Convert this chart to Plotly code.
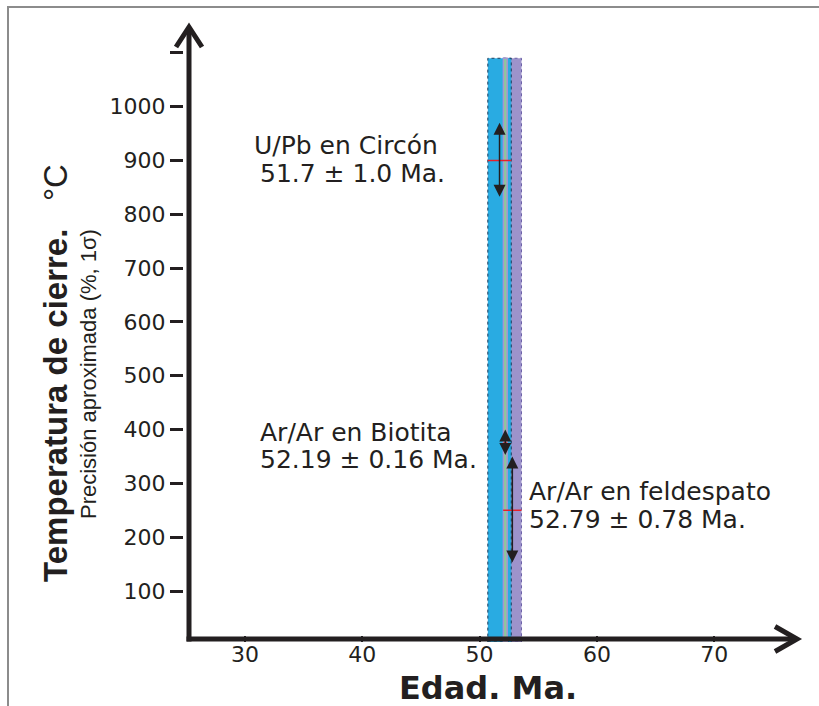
import plotly.graph_objects as go

# Closure ages (Ma) with 1-sigma errors
systems = ["U/Pb en Circón", "Ar/Ar en Biotita", "Ar/Ar en feldespato"]
ages = [51.7, 52.19, 52.79]
age_err = [1.0, 0.16, 0.78]
age_labels = ["51.7 ± 1.0 Ma.", "52.19 ± 0.16 Ma.", "52.79 ± 0.78 Ma."]

# Closure temperatures (°C) and approximate precision
temps = [900, 375, 250]
temp_err = [70, 25, 100]

band_colors = ["#29abe2", "#8dc99a", "#9d93cb"]
band_top = 1090

x_ticks = [30, 40, 50, 60, 70]
y_ticks = [100, 200, 300, 400, 500, 600, 700, 800, 900, 1000, 1100]
y_tick_text = ["100", "200", "300", "400", "500", "600", "700", "800", "900", "1000", ""]

INK = "#231f20"
WIDE = "DejaVu Sans, Verdana, sans-serif"
NARROW = "Liberation Sans, Arial, sans-serif"

# figure geometry (pixels) and axis ranges
W, H = 819, 706
L, R, T, B = 184, 14, 20, 64
x_range = [24.80, 77.74]
y_range = [5.22, 1161.1]


def px_x(px):
    return (px - L) / (W - L - R)


def px_y(py):
    return (H - B - py) / (H - T - B)


def dx(px):
    return x_range[0] + (px - L) * (x_range[1] - x_range[0]) / (W - L - R)


def dy(py):
    return y_range[0] + (H - B - py) * (y_range[1] - y_range[0]) / (H - T - B)


shapes = []

# age bands: feldspar (back), zircon, biotite (front)
band_order = [2, 0, 1]
band_lines = {
    0: dict(color="#1d3d5c", width=1, dash="dot"),
    1: dict(color="#a796d2", width=1.5),
    2: dict(color="#6a5fa6", width=1, dash="dot"),
}
for i in band_order:
    shapes.append(dict(
        type="rect", xref="x", yref="y",
        x0=ages[i] - age_err[i], x1=ages[i] + age_err[i],
        y0=y_range[0], y1=band_top,
        fillcolor=band_colors[i], line=band_lines[i], layer="above",
    ))

# closure temperature markers
for i in range(3):
    shapes.append(dict(
        type="line", xref="x", yref="y",
        x0=ages[i] - age_err[i], x1=ages[i] + age_err[i],
        y0=temps[i], y1=temps[i],
        line=dict(color="#e8202a", width=1.5), layer="above",
    ))

# axes drawn as heavy arrows (paper coordinates)
ax_line = dict(color=INK, width=5)
ox, oy = 189, 639          # origin corner
xt, yt = 797, 27           # arrow tips
shapes.append(dict(type="line", xref="paper", yref="paper",
                   x0=px_x(ox - 2.5), x1=px_x(xt), y0=px_y(oy), y1=px_y(oy), line=ax_line))
shapes.append(dict(type="line", xref="paper", yref="paper",
                   x0=px_x(ox), x1=px_x(ox), y0=px_y(oy + 2.5), y1=px_y(yt), line=ax_line))
shapes.append(dict(type="path", xref="paper", yref="paper",
                   path=f"M{px_x(xt - 22)},{px_y(oy - 12.5)} L{px_x(xt)},{px_y(oy)} L{px_x(xt - 22)},{px_y(oy + 12.5)}",
                   line=ax_line))
shapes.append(dict(type="path", xref="paper", yref="paper",
                   path=f"M{px_x(ox - 13)},{px_y(yt + 20)} L{px_x(ox)},{px_y(yt)} L{px_x(ox + 13)},{px_y(yt + 20)}",
                   line=ax_line))

# frame
shapes.append(dict(type="rect", xref="paper", yref="paper",
                   x0=px_x(8), x1=2, y0=-2, y1=px_y(7),
                   line=dict(color="#8c8c8c", width=2)))

annotations = []
# precision arrows
for i in range(3):
    annotations.append(dict(
        x=ages[i], y=temps[i] + temp_err[i], ax=ages[i], ay=temps[i] - temp_err[i],
        xref="x", yref="y", axref="x", ayref="y", text="",
        showarrow=True, arrowhead=2, startarrowhead=2, arrowside="end+start",
        arrowsize=1.6, startarrowsize=1.6, arrowwidth=1.5, arrowcolor=INK,
        standoff=0, startstandoff=0,
    ))

# two-line labels (name, age)
label_px = [((252, 145), (258, 173)), ((258, 432), (258, 459)), ((527, 491), (527, 519))]
for i in range(3):
    (x1, y1), (x2, y2) = label_px[i]
    for (lx, ly), txt in (((x1, y1), systems[i]), ((x2, y2), age_labels[i])):
        annotations.append(dict(
            x=dx(lx), y=dy(ly), xref="x", yref="y", text=txt, showarrow=False,
            xanchor="left", yanchor="middle", align="left",
            font=dict(family=WIDE, size=25, color=INK),
        ))

# axis titles
annotations.append(dict(
    x=px_x(55), y=px_y(373), xref="paper", yref="paper",
    text="<b>Temperatura de cierre.</b>\u00a0\u00a0\u00a0°C", textangle=-90,
    showarrow=False, xanchor="center", yanchor="middle",
    font=dict(family=NARROW, size=33, color=INK),
))
annotations.append(dict(
    x=px_x(88), y=px_y(374), xref="paper", yref="paper",
    text="Precisión aproximada (%, 1σ)", textangle=-90,
    showarrow=False, xanchor="center", yanchor="middle",
    font=dict(family=NARROW, size=22, color=INK),
))
annotations.append(dict(
    x=px_x(488), y=px_y(688), xref="paper", yref="paper",
    text="<b>Edad. Ma.</b>", showarrow=False, xanchor="center", yanchor="middle",
    borderpad=0,
    font=dict(family=WIDE, size=32, color=INK),
))

fig = go.Figure()
fig.update_layout(
    width=W, height=H, autosize=False,
    margin=dict(l=L, r=R, t=T, b=B),
    paper_bgcolor="white", plot_bgcolor="white",
    showlegend=False,
    shapes=shapes, annotations=annotations,
    xaxis=dict(range=x_range, showgrid=False, zeroline=False, showline=False,
               tickvals=x_ticks, ticks="inside", ticklen=6, tickwidth=2, tickcolor=INK,
               ticklabelstandoff=-3,
               tickfont=dict(family=WIDE, size=22, color=INK)),
    yaxis=dict(range=y_range, showgrid=False, zeroline=False, showline=False,
               tickvals=y_ticks, ticktext=y_tick_text,
               ticks="outside", ticklen=13, tickwidth=3, tickcolor=INK,
               tickfont=dict(family=WIDE, size=22, color=INK)),
)

fig.write_html("out.html")
